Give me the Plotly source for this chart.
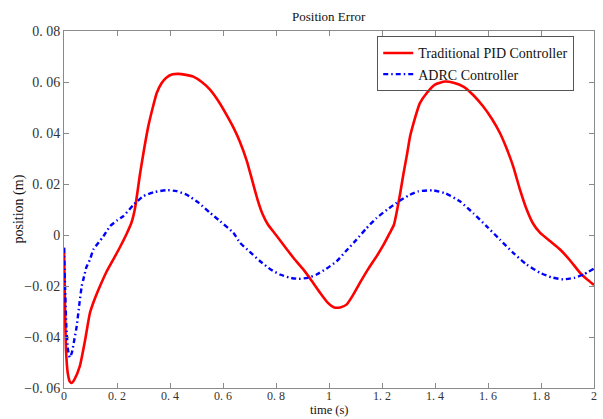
import plotly.graph_objects as go

# Traditional PID controller position error
pid_t = [0.0, 0.004, 0.008, 0.014, 0.022, 0.029, 0.04, 0.06, 0.08, 0.098, 0.118, 0.136, 0.16, 0.186, 0.21, 0.236, 0.255,
         0.268, 0.287, 0.302, 0.318, 0.335, 0.35, 0.368, 0.387, 0.41, 0.431, 0.46, 0.488, 0.52, 0.551, 0.589, 0.614,
         0.64, 0.664, 0.69, 0.71, 0.73, 0.75, 0.77, 0.80, 0.84, 0.87, 0.903, 0.935, 0.966, 0.995, 1.02, 1.045,
         1.067, 1.09, 1.117, 1.15, 1.18, 1.205, 1.23, 1.245, 1.255, 1.268, 1.281, 1.295, 1.306, 1.318, 1.343,
         1.369, 1.40, 1.438, 1.47, 1.507, 1.545, 1.582, 1.615, 1.645, 1.67, 1.695, 1.72, 1.746, 1.77, 1.796,
         1.835, 1.872, 1.91, 1.947, 1.975, 2.0]
pid_y = [-0.005, -0.030, -0.046, -0.054, -0.0575, -0.058, -0.0565, -0.0513, -0.041, -0.0305, -0.0245, -0.020,
         -0.0145, -0.0096, -0.005, 0.0004, 0.005, 0.0105, 0.024, 0.0335, 0.0426, 0.050, 0.0557, 0.0595, 0.0618,
         0.063, 0.0632, 0.0628, 0.0621, 0.0600, 0.0570, 0.0515, 0.047, 0.0420, 0.0365, 0.029, 0.0215, 0.0140,
         0.0080, 0.0040, 0.0000, -0.0055, -0.0095, -0.0135, -0.018, -0.0226, -0.0265, -0.0284, -0.0283, -0.0272,
         -0.0237, -0.0187, -0.013, -0.0083, -0.004, 0.0009, 0.004, 0.0087, 0.016, 0.024, 0.032, 0.0387, 0.0435,
         0.0517, 0.0557, 0.0590, 0.0602, 0.0597, 0.0582, 0.0548, 0.0504, 0.0455, 0.040, 0.034, 0.0269, 0.018,
         0.010, 0.0045, 0.0009, -0.0025, -0.0057, -0.010, -0.0148, -0.0175, -0.0196]

# ADRC controller position error
adrc_t = [0.0, 0.004, 0.009, 0.015, 0.022, 0.03, 0.039, 0.048, 0.058, 0.067, 0.073, 0.085, 0.098, 0.111, 0.13,
          0.149, 0.174, 0.2, 0.224, 0.262, 0.299, 0.34, 0.387, 0.425, 0.463, 0.51, 0.551, 0.589, 0.639, 0.664,
          0.70, 0.74, 0.78, 0.815, 0.85, 0.884, 0.92, 0.953, 0.99, 1.029, 1.065, 1.104, 1.14, 1.18, 1.22, 1.255,
          1.30, 1.337, 1.394, 1.44, 1.494, 1.545, 1.595, 1.645, 1.695, 1.745, 1.796, 1.84, 1.884, 1.925, 1.96, 2.0]
adrc_y = [-0.005, -0.020, -0.036, -0.045, -0.048, -0.046, -0.041, -0.0357, -0.027, -0.020, -0.0174, -0.0125,
          -0.0096, -0.0057, -0.003, -0.0005, 0.0035, 0.0057, 0.0074, 0.0118, 0.0152, 0.0168, 0.0176, 0.0172,
          0.0158, 0.0125, 0.0087, 0.0054, 0.0009, -0.003, -0.0065, -0.0103, -0.0135, -0.0155, -0.0167, -0.0172,
          -0.0168, -0.0155, -0.0132, -0.0103, -0.0062, -0.0018, 0.0025, 0.0067, 0.0100, 0.0126, 0.0155, 0.0171,
          0.0175, 0.0163, 0.0132, 0.0085, 0.0034, -0.0018, -0.007, -0.0115, -0.0148, -0.0166, -0.0174, -0.0168,
          -0.0155, -0.0132]

x_ticks = [0, 0.2, 0.4, 0.6, 0.8, 1.0, 1.2, 1.4, 1.6, 1.8, 2.0]
x_tick_labels = ["0", "0. 2", "0. 4", "0. 6", "0. 8", "1", "1. 2", "1. 4", "1. 6", "1. 8", "2"]
y_ticks = [-0.06, -0.04, -0.02, 0, 0.02, 0.04, 0.06, 0.08]
y_tick_labels = ["\u22120. 06", "\u22120. 04", "\u22120. 02", "0", "0. 02", "0. 04", "0. 06", "0. 08"]

FONT = "Liberation Serif, Times New Roman, serif"

fig = go.Figure()
fig.add_trace(go.Scatter(x=pid_t, y=pid_y, mode="lines", name="Traditional PID Controller",
                         line=dict(color="#ff0000", width=2.6, shape="spline", smoothing=0.5)))
fig.add_trace(go.Scatter(x=adrc_t, y=adrc_y, mode="lines", name="ADRC Controller",
                         line=dict(color="#0000ff", width=2.4, dash="5px,3px,1.5px,3px",
                                   shape="spline", smoothing=0.5)))

axis_common = dict(showline=True, linecolor="#8a8a8a", linewidth=1, mirror="ticks", ticks="inside",
                   ticklen=5, tickcolor="#8a8a8a", showgrid=False, zeroline=False,
                   tickfont=dict(family=FONT, size=14, color="#333333"))

fig.update_xaxes(range=[0, 2], tickvals=x_ticks, ticktext=x_tick_labels, **axis_common)
fig.update_yaxes(range=[-0.06, 0.08], tickvals=y_ticks, ticktext=y_tick_labels, **axis_common)
fig.update_xaxes(tickfont=dict(size=12), ticklabelstandoff=-3)

fig.update_layout(
    width=603, height=419,
    margin=dict(l=64, r=9, t=31, b=31, autoexpand=False),
    paper_bgcolor="white", plot_bgcolor="white",
    showlegend=True,
    legend=dict(x=0.591, y=0.985, xanchor="left", yanchor="top",
                bgcolor="rgba(255,255,255,0)", bordercolor="#555555", borderwidth=1,
                font=dict(family=FONT, size=14, color="#111111"),
                tracegroupgap=0, itemwidth=30),
    annotations=[
        dict(text="Position Error", x=0.5, y=1, xref="paper", yref="paper", xanchor="center",
             yanchor="bottom", yshift=5, showarrow=False, font=dict(family=FONT, size=13, color="#111111")),
        dict(text="time (s)", x=0.5, y=-31 / 357, xref="paper", yref="paper", xanchor="center",
             yanchor="bottom", yshift=0, showarrow=False, font=dict(family=FONT, size=12.5, color="#111111")),
        dict(text="position (m)", x=0, y=0.5, xref="paper", yref="paper", xanchor="center",
             yanchor="middle", xshift=-46, textangle=-90, showarrow=False,
             font=dict(family=FONT, size=14, color="#111111")),
    ],
)

fig.write_html("out.html", config={"displayModeBar": False},
               post_script="document.body.style.margin='0';document.body.style.padding='0';")
